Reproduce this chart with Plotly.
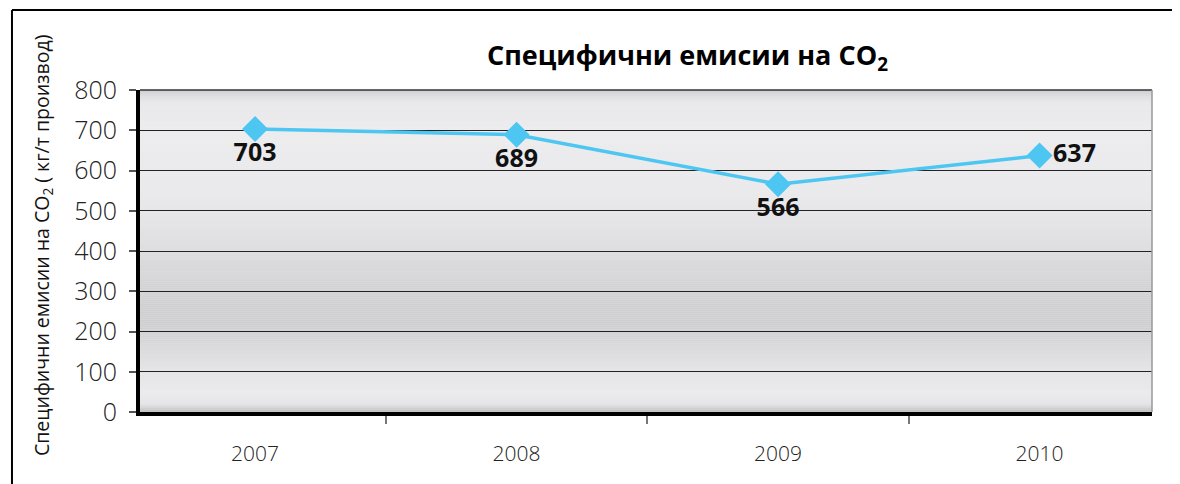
import plotly.graph_objects as go

years = ["2007", "2008", "2009", "2010"]
emissions = [703, 689, 566, 637]
label_positions = ["bottom center", "bottom center", "bottom center", "middle right"]
y_ticks = [0, 100, 200, 300, 400, 500, 600, 700, 800]

title_text = "<b>Специфични емисии на CO<sub>2</sub></b>"
ytitle_text = "Специфични емисии на CO<sub>2</sub> ( кг/т производ)"

# background gradient stops (value on y axis, grey level)
grad_stops = [(0, 192), (8, 208), (20, 230), (50, 235), (120, 226), (220, 206), (300, 210),
              (420, 224), (550, 235), (700, 237), (770, 233), (790, 218), (800, 205)]

def grey_at(v):
    for (a, ga), (b, gb) in zip(grad_stops[:-1], grad_stops[1:]):
        if a <= v <= b:
            t = (v - a) / (b - a) if b > a else 0
            return ga + (gb - ga) * t
    return grad_stops[-1][1]

shapes = []
n_strips = 160
for i in range(n_strips):
    y0 = 800 * i / n_strips
    y1 = 800 * (i + 1) / n_strips
    g = int(round(grey_at((y0 + y1) / 2)))
    shapes.append(dict(type="rect", xref="paper", yref="y", x0=0, x1=1, y0=y0, y1=y1,
                       fillcolor=f"rgb({g},{g},{g+2})", line=dict(width=0), layer="below"))

# plot frame lines
shapes.append(dict(type="line", xref="paper", yref="paper", x0=0, x1=1, y0=1, y1=1,
                   line=dict(color="#333333", width=1.5)))
shapes.append(dict(type="line", xref="paper", yref="paper", x0=1, x1=1, y0=0, y1=1,
                   line=dict(color="#999999", width=1.5)))
# outer frame of the figure box (left and top)
shapes.append(dict(type="line", xref="paper", yref="paper", x0=-0.1265, x1=-0.1265, y0=-0.3, y1=1.2484,
                   line=dict(color="#000000", width=2)))
shapes.append(dict(type="line", xref="paper", yref="paper", x0=-0.1265, x1=1.021, y0=1.2484, y1=1.2484,
                   line=dict(color="#000000", width=2)))
shapes.append(dict(type="path", xref="paper", yref="paper",
                   path="M 1.0195 1.2484 L 1.0277 1.2484 L 1.0277 1.2795 Z",
                   fillcolor="#A8D050", line=dict(width=0)))

fig = go.Figure()
fig.add_trace(go.Scatter(
    x=years, y=emissions, mode="lines+markers+text",
    text=[str(v) for v in emissions], textposition=label_positions,
    textfont=dict(family="Open Sans, Noto Sans, sans-serif", size=25, color="#111111", weight="bold"),
    line=dict(color="#4DC6F2", width=3.5),
    marker=dict(symbol="diamond", size=20, color="#4DC6F2"),
    cliponaxis=False, showlegend=False, hoverinfo="x+y",
))

fig.update_layout(
    width=1180, height=484,
    margin=dict(l=132, r=36, t=82, b=80),
    paper_bgcolor="white", plot_bgcolor="#e6e6e6",
    shapes=shapes,
    font=dict(family="Open Sans, Noto Sans, sans-serif", color="#333333"),
    annotations=[
        dict(text=title_text, xref="paper", yref="paper", x=0.5415, y=1.1025, yanchor="middle",
             xanchor="center", showarrow=False,
             font=dict(family="Open Sans, Noto Sans, sans-serif", size=27, color="#000000")),
        dict(text=ytitle_text, xref="paper", yref="paper", x=-0.0968, y=0.5186, textangle=-90,
             xanchor="center", yanchor="middle", showarrow=False,
             font=dict(family="Open Sans, Noto Sans, sans-serif", size=19.5, color="#111111")),
    ],
)

fig.update_xaxes(
    type="category", range=[-0.44, 3.43], tickson="boundaries",
    ticks="outside", ticklen=8, tickcolor="#777777", tickwidth=1.5,
    showline=True, linecolor="#000000", linewidth=4,
    showgrid=False, zeroline=False,
    tickfont=dict(family="Open Sans, Noto Sans, sans-serif", size=21, color="#222222", weight=300),
    ticklabelstandoff=20,
)
fig.update_yaxes(
    range=[0, 800], tickvals=y_ticks,
    ticks="outside", ticklen=7, tickcolor="#555555", tickwidth=1.5,
    showline=True, linecolor="#000000", linewidth=4,
    showgrid=True, gridcolor="#222222", gridwidth=1, zeroline=False,
    tickfont=dict(family="Open Sans, Noto Sans, sans-serif", size=25, color="#222222", weight=300),
    ticklabelstandoff=7,
)

fig.write_html("out.html")
